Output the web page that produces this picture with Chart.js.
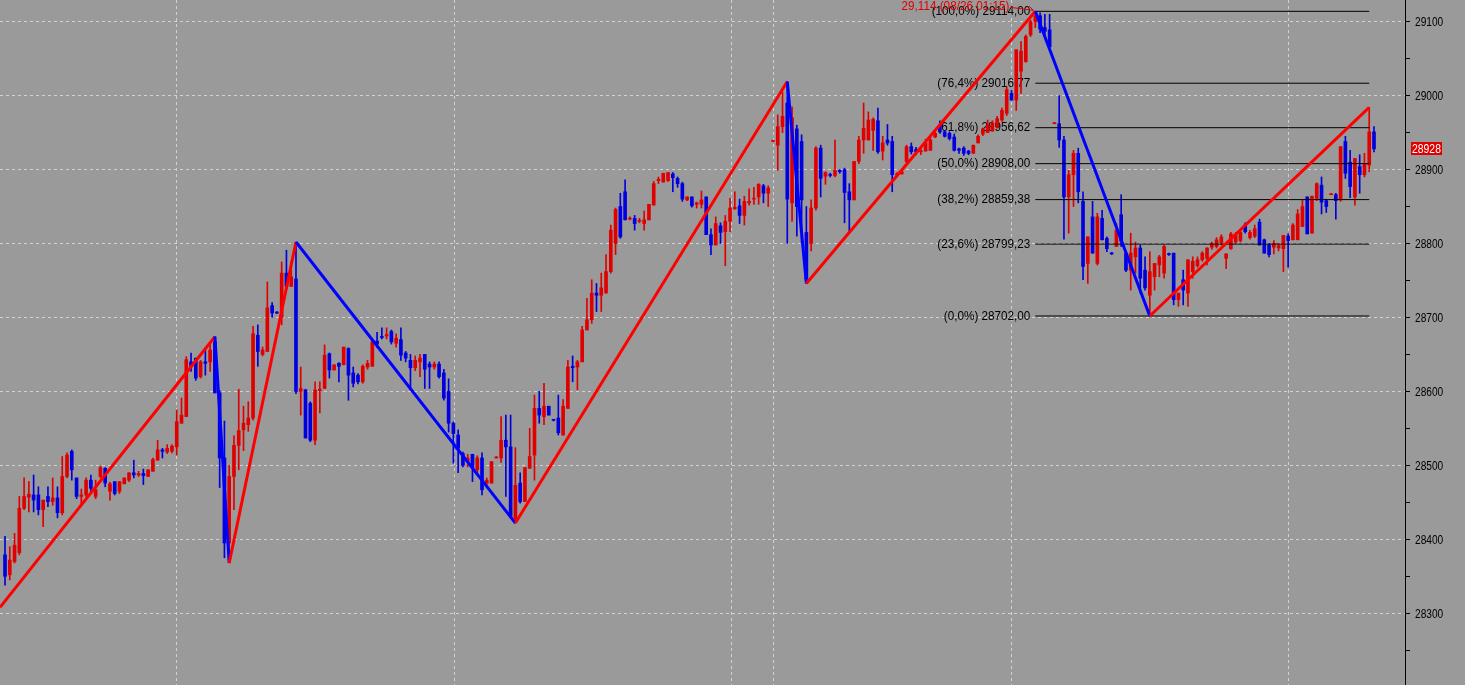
<!DOCTYPE html>
<html>
<head>
<meta charset="utf-8">
<script src="https://cdn.jsdelivr.net/npm/chart.js@4.4.0/dist/chart.umd.min.js"></script>
<style>
  html, body { margin: 0; padding: 0; background: #9a9a9a; overflow: hidden; }
  #wrap { position: relative; width: 1465px; height: 685px; }
</style>
</head>
<body>
<div id="wrap"><canvas id="myChart"></canvas></div>
<script>
// candles (one per bar, left to right)
const opens = [
  28379,28352,28370,28382,28442,28457,28460,28460,28440,28458,
  28451,28456,28436,28485,28519,28483,28458,28460,28480,28458,
  28485,28496,28465,28478,28465,28475,28480,28490,28487,28489,
  28485,28492,28507,28521,28518,28519,28525,28557,28566,28640,
  28645,28620,28640,28640,28667,28598,28510,28395,28485,28527,
  28548,28555,28564,28676,28650,28654,28716,28707,28700,28760,
  28742,28752,28600,28602,28584,28534,28601,28604,28651,28629,
  28638,28636,28658,28625,28622,28613,28633,28634,28668,28674,
  28675,28681,28665,28670,28652,28642,28632,28640,28650,28637,
  28633,28637,28625,28600,28557,28541,28516,28505,28515,28494,
  28510,28476,28476,28510,28510,28534,28525,28428,28476,28451,
  28496,28514,28577,28566,28580,28562,28564,28541,28577,28634,
  28633,28640,28683,28697,28733,28730,28733,28762,28800,28850,
  28870,28833,28834,28830,28827,28832,28852,28885,28883,28885,
  28894,28888,28881,28859,28863,28853,28853,28863,28812,28798,
  28824,28816,28830,28847,28851,28838,28855,28860,28863,28878,
  28868,28938,28933,28958,28990,28855,28955,28938,28815,28800,
  28848,28929,28891,28893,28892,28899,28900,28870,28859,28911,
  28940,28940,28953,28966,28925,28940,28938,28893,28894,28911,
  28931,28927,28924,28925,28926,28944,28960,28951,28949,28944,
  28928,28929,28925,28922,28936,28948,28950,28952,28958,28967,
  28976,29003,28994,29033,29046,29082,29100,29108,29092,29089,
  28962,28962,28940,28863,28893,28922,28857,28773,28836,28773,
  28834,28807,28787,28796,28839,28787,28764,28782,28794,28764,
  28730,28755,28771,28760,28786,28787,28724,28751,28733,28762,
  28770,28778,28780,28795,28796,28801,28780,28793,28802,28804,
  28825,28808,28810,28829,28805,28798,28795,28794,28793,28810,
  28805,28805,28823,28863,28814,28861,28879,28858,28866,28866,
  28859,28938,28910,28863,28904,28893,28906,28951
];
const highs = [
  28404,28390,28408,28458,28483,28478,28487,28471,28453,28471,
  28483,28471,28512,28517,28521,28483,28468,28483,28487,28480,
  28499,28497,28477,28478,28478,28483,28490,28507,28492,28495,
  28494,28510,28534,28523,28528,28528,28575,28591,28647,28652,
  28645,28642,28656,28665,28674,28601,28560,28500,28540,28603,
  28580,28586,28688,28690,28660,28748,28720,28708,28775,28791,
  28776,28802,28633,28603,28586,28613,28613,28663,28652,28636,
  28639,28660,28659,28633,28624,28636,28642,28670,28680,28686,
  28686,28683,28678,28686,28654,28650,28648,28650,28650,28640,
  28640,28640,28630,28617,28559,28548,28518,28515,28515,28513,
  28517,28483,28505,28512,28566,28568,28568,28524,28490,28497,
  28550,28595,28600,28611,28580,28562,28595,28589,28642,28648,
  28642,28688,28726,28751,28746,28760,28785,28825,28848,28868,
  28886,28836,28838,28834,28844,28853,28884,28890,28895,28896,
  28896,28890,28883,28863,28863,28856,28871,28863,28820,28836,
  28828,28838,28861,28870,28860,28864,28874,28876,28881,28880,
  28878,28940,28974,29005,29019,28985,28960,28947,28850,28859,
  28931,28933,28897,28895,28940,28900,28902,28881,28911,28945,
  28990,28978,28970,28983,28945,28961,28945,28896,28900,28933,
  28936,28930,28930,28941,28945,28951,28966,28953,28951,28948,
  28929,28931,28926,28933,28947,28956,28967,28966,28972,28983,
  29012,29007,29062,29073,29082,29102,29114,29112,29110,29110,
  28964,29000,28945,28899,28926,28929,28870,28809,28857,28841,
  28845,28809,28788,28827,28866,28787,28814,28802,28798,28782,
  28789,28773,28784,28798,28787,28787,28733,28764,28778,28782,
  28782,28789,28794,28802,28808,28812,28786,28815,28815,28818,
  28828,28818,28825,28833,28806,28800,28804,28800,28811,28813,
  28827,28846,28859,28863,28864,28882,28890,28860,28868,28868,
  28931,28945,28926,28915,28920,28922,28984,28958
];
const lows = [
  28338,28345,28368,28379,28440,28437,28437,28433,28417,28444,
  28446,28429,28433,28483,28480,28455,28447,28458,28463,28455,
  28483,28471,28453,28460,28462,28475,28478,28483,28485,28474,
  28485,28492,28507,28510,28516,28517,28514,28557,28566,28627,
  28615,28618,28622,28627,28598,28470,28375,28368,28440,28494,
  28520,28546,28561,28634,28648,28654,28700,28705,28690,28738,
  28742,28597,28568,28537,28532,28528,28571,28604,28618,28629,
  28613,28636,28588,28606,28610,28611,28630,28634,28660,28671,
  28671,28664,28660,28642,28640,28602,28628,28620,28604,28604,
  28630,28618,28588,28545,28503,28490,28498,28498,28478,28490,
  28460,28470,28476,28510,28504,28458,28429,28422,28449,28451,
  28496,28480,28557,28555,28568,28560,28541,28541,28577,28613,
  28602,28640,28683,28692,28708,28708,28733,28760,28785,28807,
  28832,28832,28818,28828,28818,28832,28852,28881,28883,28884,
  28870,28876,28857,28858,28849,28848,28848,28812,28785,28798,
  28800,28770,28816,28846,28827,28825,28852,28853,28853,28855,
  28850,28938,28899,28950,28800,28830,28810,28800,28746,28790,
  28845,28863,28880,28890,28890,28895,28828,28815,28859,28908,
  28922,28940,28926,28922,28913,28933,28870,28892,28894,28909,
  28921,28920,28920,28925,28926,28943,28950,28944,28940,28925,
  28922,28919,28920,28922,28936,28946,28950,28952,28956,28965,
  28973,28994,28980,29003,29045,29080,29092,29085,29082,29062,
  28962,28930,28806,28814,28850,28855,28751,28746,28787,28771,
  28805,28789,28785,28796,28796,28762,28737,28760,28733,28737,
  28702,28737,28755,28753,28784,28717,28715,28717,28715,28753,
  28768,28776,28771,28792,28794,28798,28766,28792,28800,28802,
  28814,28806,28808,28798,28787,28782,28786,28790,28762,28768,
  28805,28805,28823,28813,28814,28858,28840,28842,28866,28833,
  28857,28888,28862,28852,28868,28890,28897,28924
];
const closes = [
  28350,28372,28392,28442,28458,28461,28453,28440,28453,28451,
  28456,28436,28485,28514,28494,28458,28460,28480,28469,28467,
  28497,28476,28475,28462,28478,28483,28490,28487,28489,28486,
  28494,28508,28521,28519,28523,28526,28559,28568,28643,28634,
  28618,28640,28638,28656,28598,28510,28395,28485,28527,28547,
  28557,28564,28678,28654,28656,28713,28706,28706,28760,28742,
  28755,28600,28604,28537,28534,28602,28603,28649,28629,28636,
  28634,28660,28622,28611,28613,28634,28638,28667,28664,28673,
  28677,28667,28672,28649,28645,28632,28642,28645,28630,28633,
  28637,28620,28591,28557,28543,28523,28500,28510,28498,28510,
  28467,28480,28505,28511,28534,28525,28431,28473,28451,28497,
  28512,28577,28568,28580,28568,28561,28544,28580,28633,28632,
  28640,28683,28697,28733,28730,28740,28762,28818,28846,28809,
  28832,28834,28827,28831,28832,28853,28881,28887,28895,28896,
  28889,28881,28860,28863,28851,28855,28859,28812,28798,28827,
  28815,28830,28848,28849,28838,28857,28857,28861,28880,28868,
  28875,28939,28958,28972,28860,28970,28850,28859,28752,28848,
  28929,28888,28896,28892,28899,28897,28869,28859,28911,28940,
  28956,28967,28968,28924,28936,28936,28893,28894,28897,28931,
  28924,28924,28925,28936,28940,28949,28951,28945,28942,28926,
  28926,28922,28922,28933,28945,28955,28960,28963,28969,28980,
  29008,28994,29062,29060,29080,29100,29108,29090,29087,29066,
  28963,28940,28863,28893,28922,28870,28769,28809,28787,28836,
  28805,28793,28786,28818,28803,28764,28787,28794,28753,28740,
  28762,28773,28782,28796,28785,28724,28733,28737,28778,28776,
  28778,28787,28794,28800,28805,28809,28786,28813,28811,28815,
  28816,28815,28820,28798,28787,28785,28800,28797,28811,28804,
  28825,28840,28850,28813,28864,28881,28856,28850,28867,28858,
  28931,28895,28877,28915,28893,28908,28951,28928
];

// zigzag pivots: bar index and price
const zigzagIdx   = [-1.05, 44, 47, 61, 107, 164, 168, 216, 240, 286];
const zigzagPrice = [28308, 28674, 28368, 28802, 28422, 29019, 28746, 29114, 28702, 28984];

// fibonacci retracement of the last swing
const fibPct    = ['100,0%', '76,4%', '61,8%', '50,0%', '38,2%', '23,6%', '0,0%'];
const fibLevels = [29114, 29016.77, 28956.62, 28908, 28859.38, 28799.23, 28702];
const fibFrom = 216;
const fibTo = 286;
const peakNote = '29,114 (08/26 01:15)';

// session separators (bar index)
const vGridAt = [36, 94.3, 152.2, 161.2, 211.1, 269];

const RED = '#e00000';
const BLUE = '#0000e0';
const FONT = "'Liberation Sans', Arial, sans-serif";

const candleColors = closes.map((c, i) => c >= opens[i] ? RED : BLUE);
const wickData = closes.map((c, i) => ({ x: i, y: [lows[i], highs[i]] }));
const bodyData = closes.map((c, i) => ({ x: i, y: [opens[i], c] }));

const fibDatasets = fibLevels.map(lv => ({
  type: 'line',
  data: [{ x: fibFrom, y: lv }, { x: fibTo, y: lv }],
  borderColor: '#000000',
  borderWidth: 1,
  pointRadius: 0,
  order: 1
}));

// narrow text helper (the terminal font is condensed)
function narrowText(ctx, txt, x, y, sx) {
  ctx.save();
  ctx.translate(x, y);
  ctx.scale(sx, 1);
  ctx.fillText(txt, 0, 0);
  ctx.restore();
}

// text that sits under the candles
const fibLabels = {
  id: 'fibLabels',
  beforeDatasetsDraw(chart) {
    const { ctx, scales: { x, y } } = chart;
    ctx.save();
    ctx.font = '13px ' + FONT;
    ctx.textAlign = 'right';
    ctx.textBaseline = 'middle';
    ctx.fillStyle = '#000000';
    const right = x.getPixelForValue(fibFrom) - 5;
    fibLevels.forEach((lv, k) => {
      const txt = '(' + fibPct[k] + ') ' + lv.toFixed(2).replace('.', ',');
      narrowText(ctx, txt, right, y.getPixelForValue(lv), 0.9);
    });
    // peak note
    const px = x.getPixelForValue(fibFrom);
    const py = y.getPixelForValue(fibLevels[0]);
    ctx.fillStyle = '#e00000';
    narrowText(ctx, peakNote, px - 26, py - 5, 0.9);
    ctx.strokeStyle = '#e00000';
    ctx.lineWidth = 1;
    ctx.beginPath();
    ctx.moveTo(px - 25, py - 4);
    ctx.lineTo(px - 2, py - 1);
    ctx.moveTo(px - 6, py - 5);
    ctx.lineTo(px - 2, py - 1);
    ctx.stroke();
    ctx.restore();
  }
};

// axis labels and last price tag
const axisText = {
  id: 'axisText',
  afterDraw(chart) {
    const { ctx, scales: { y } } = chart;
    ctx.save();
    ctx.font = '13px ' + FONT;
    ctx.textAlign = 'left';
    ctx.textBaseline = 'middle';
    ctx.fillStyle = '#000000';
    y.ticks.forEach(t => {
      if (t.value % 100 === 0) {
        narrowText(ctx, String(t.value), y.left + 10, y.getPixelForValue(t.value) + 1, 0.78);
      }
    });
    const last = closes[closes.length - 1];
    const py = Math.round(y.getPixelForValue(last));
    ctx.fillStyle = '#e00000';
    ctx.fillRect(y.left + 6, py - 7, 31, 13);
    ctx.fillStyle = '#ffffff';
    narrowText(ctx, String(last), y.left + 7, py, 0.8);
    ctx.restore();
  }
};

const ctx = document.getElementById('myChart').getContext('2d');
new Chart(ctx, {
  type: 'bar',
  data: {
    datasets: [
      {
        type: 'line',
        label: 'zigzag',
        data: zigzagIdx.map((v, k) => ({ x: v, y: zigzagPrice[k] })),
        borderColor: '#ff0000',
        borderWidth: 3,
        pointRadius: 0,
        tension: 0,
        segment: {
          borderColor: c => c.p1.parsed.y > c.p0.parsed.y ? '#ff0000' : '#0000ff'
        },
        order: 0
      },
      ...fibDatasets,
      {
        label: 'body',
        data: bodyData,
        backgroundColor: candleColors,
        barThickness: 3,
        minBarLength: 1,
        grouped: false,
        order: 2
      },
      {
        label: 'wick',
        data: wickData,
        backgroundColor: candleColors,
        barThickness: 1,
        minBarLength: 1,
        grouped: false,
        order: 3
      }
    ]
  },
  options: {
    responsive: true,
    maintainAspectRatio: false,
    animation: false,
    devicePixelRatio: 1,
    layout: { padding: 0 },
    plugins: {
      legend: { display: false },
      tooltip: { enabled: false },
      title: { display: false }
    },
    scales: {
      x: {
        type: 'linear',
        min: -1.05,
        max: 293.5,
        offset: false,
        afterBuildTicks: ax => { ax.ticks = vGridAt.map(v => ({ value: v })); },
        afterFit: ax => { ax.height = 0; },
        ticks: { display: false },
        grid: { color: '#d2d2d2', drawTicks: false, lineWidth: 1, offset: false },
        border: { display: false, dash: [3, 3] }
      },
      y: {
        type: 'linear',
        position: 'right',
        min: 28203,
        max: 29129.3,
        afterFit: ax => { ax.width = 60; ax.paddingTop = 0; ax.paddingBottom = 0; },
        ticks: {
          display: false,
          stepSize: 50,
          includeBounds: false,
          autoSkip: false
        },
        grid: {
          color: c => (c.tick && c.tick.value % 100 === 0) ? '#d2d2d2' : 'rgba(0,0,0,0)',
          tickColor: '#000000',
          tickLength: 5,
          tickBorderDash: [],
          lineWidth: 1,
          offset: false
        },
        border: { display: true, color: '#000000', width: 1, dash: [3, 3] }
      }
    }
  },
  plugins: [fibLabels, axisText]
});
</script>
</body>
</html>
